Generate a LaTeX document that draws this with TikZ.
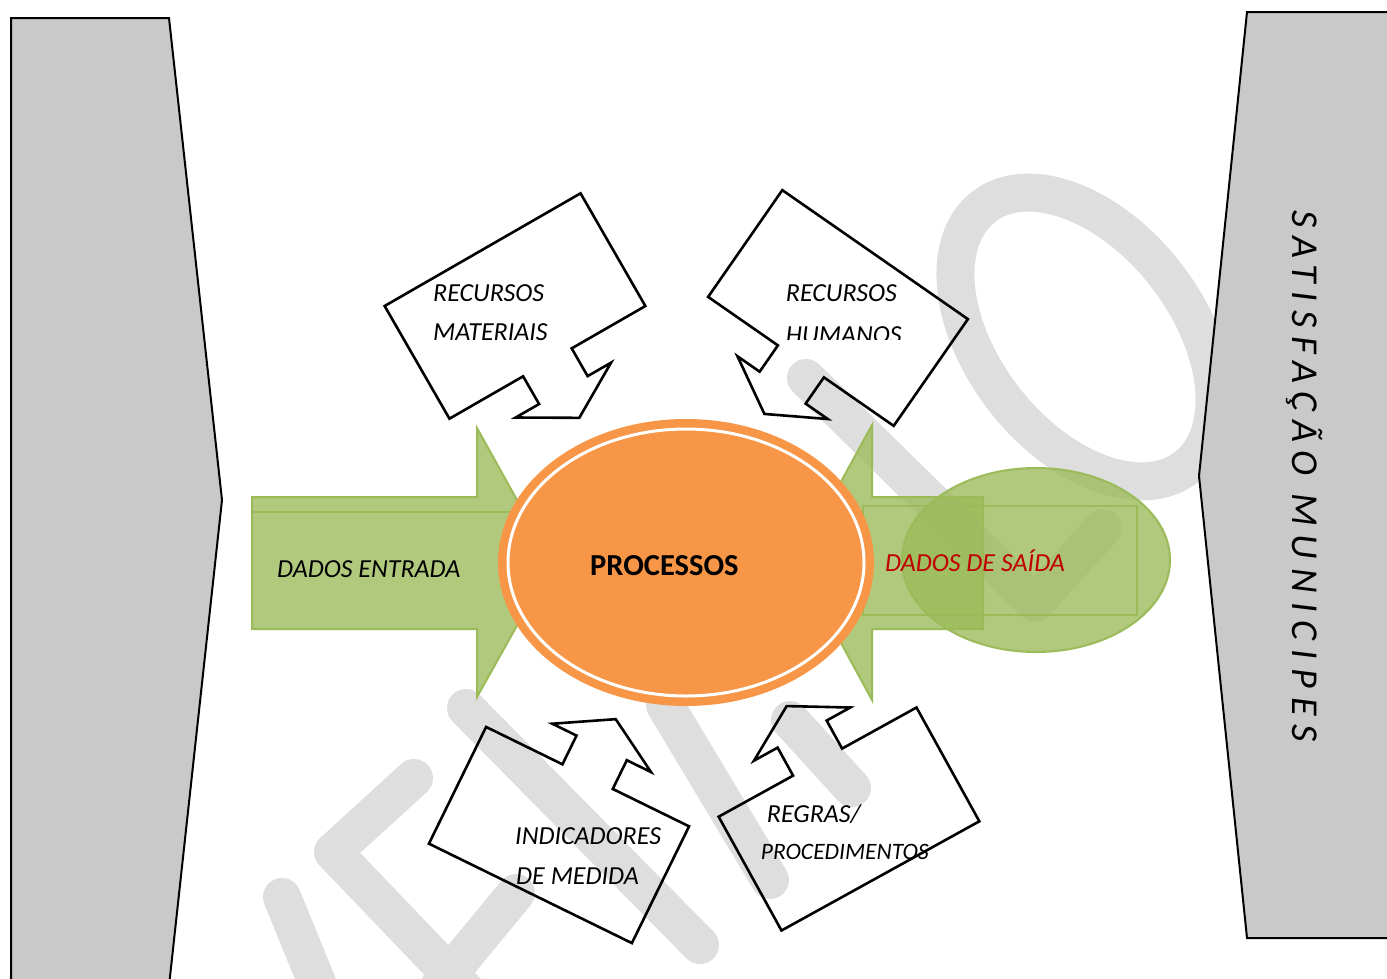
\documentclass[tikz,border=0pt]{standalone}
\usepackage{fontspec}
\setmainfont{Carlito}
\definecolor{sidegray}{HTML}{C9C9C9}
\definecolor{wmgray}{HTML}{DEDEDE}
\definecolor{okgreen}{HTML}{9BBB59}
\definecolor{orng}{HTML}{F79646}
\definecolor{darkred}{HTML}{C00000}
\tikzset{
  wm/.style={draw=wmgray, line width=38pt, line cap=round, line join=round},
  side/.style={fill=sidegray, draw=black, line width=2pt},
  callout/.style={draw=black, line width=2.6pt, line join=miter},
  lbl/.style={font=\fontsize{26}{30}\selectfont\itshape, inner sep=0pt, anchor=base west},
  garrow/.style={fill=okgreen, fill opacity=0.78, draw=okgreen, line width=2pt},
  calloutbox/.pic={\draw[callout] (-113,-65) -- (113,-65) -- (113,65) -- (28,65) -- (28,97) -- (55,97) -- (0,129) -- (-55,97) -- (-28,97) -- (-28,65) -- (-113,65) -- cycle;}
}
\begin{document}
\begin{tikzpicture}[x=1pt,y=-1pt]
\useasboundingbox[fill=white] (0,0) rectangle (1387,978);
% watermark
\draw[wm, rotate around={-52:(1085,337)}] (1085,337) ellipse [x radius=165, y radius=102];
\draw[wm] (806,378) -- (1035,603) -- (1103,528);
\draw[wm] (466,708) -- (700,945);
\draw[wm] (414,778) -- (333,852) -- (470,995);
\draw[wm] (282,897) -- (322,995);
\draw[wm] (516,893) -- (440,985);
\draw[wm] (665,705) -- (770,880);
\draw[wm] (790,720) -- (852,788);
% side shapes
\draw[side] (11,995) -- (11,18) -- (169,18) -- (222,500) -- (168,995);
\draw[side] (1400,12) -- (1247,12) -- (1199,476) -- (1247,938) -- (1400,938);
\node[rotate=-90, anchor=base west, inner sep=0pt, font=\fontsize{38}{42}\selectfont\itshape\addfontfeatures{LetterSpace=24}] (sat) at (1292,210) {SATISFAÇÃO MUNICIPES};
% green arrows
\draw[garrow] (252,497) -- (477,497) -- (477,428) -- (552,563) -- (477,697) -- (477,629) -- (252,629) -- cycle;
\draw[okgreen, line width=2pt] (252,512) -- (520,512);
\draw[garrow] (983,497) -- (872,497) -- (872,425) -- (797,562) -- (872,700) -- (872,629) -- (983,629) -- cycle;
\draw[garrow] (1036,560) ellipse [x radius=134, y radius=92];
\draw[okgreen, line width=2pt] (863,506) rectangle (1137,615);
\node[lbl] (din) at (277,577.7) {DADOS ENTRADA};
\node[lbl, text=darkred] (dout) at (885,571.7) {DADOS DE SAÍDA};
% orange process
\fill[orng] (686,562.5) ellipse [x radius=188, y radius=143.5];
\draw[white, line width=3pt] (686,562.5) ellipse [x radius=178, y radius=133.5];
\node[font=\fontsize{30.5}{34}\selectfont\bfseries, inner sep=0pt, anchor=base west] (proc) at (590,575.7) {PROCESSOS};
% callouts
\pic[rotate=29.9] (c1) at (515,306) {calloutbox};
\pic[rotate=-34.8] (c2) at (838,308) {calloutbox};
\pic[rotate=153.9] (c3) at (559,835) {calloutbox};
\pic[rotate=208.9] (c4) at (849,819) {calloutbox};
\node[lbl] (t1a) at (433,301.7) {RECURSOS};
\node[lbl] (t1b) at (433,340.7) {MATERIAIS};
\node[lbl] (t2a) at (785.7,301.7) {RECURSOS};
\begin{scope}
\clip (700,250) rectangle (1000,339.5);
\node[lbl] (t2b) at (785.7,343) {HUMANOS};
\end{scope}
\node[lbl] (t3a) at (515,844.3) {INDICADORES};
\node[lbl] (t3b) at (516,884) {DE MEDIDA};
\node[lbl] (t4a) at (766.7,822.7) {REGRAS/};
\node[lbl, font=\fontsize{23.5}{28}\selectfont\itshape] (t4b) at (760.7,859) {PROCEDIMENTOS};
\end{tikzpicture}
\end{document}
